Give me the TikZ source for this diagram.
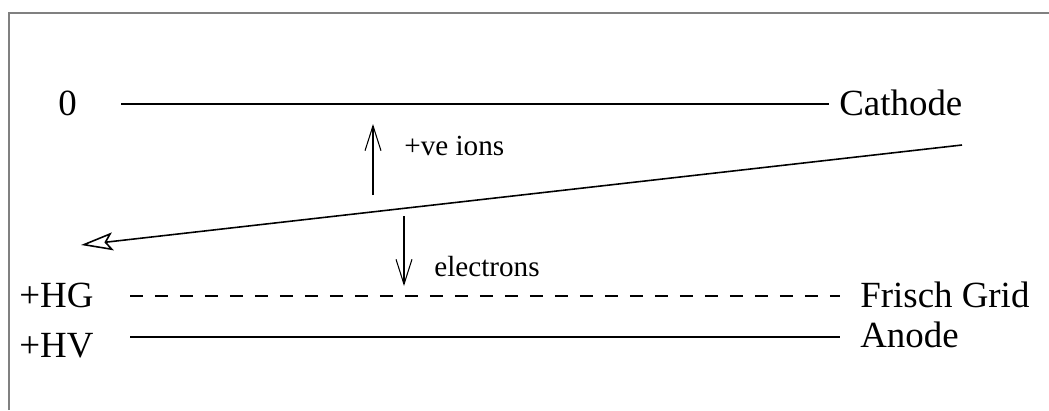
\documentclass[tikz,border=0pt]{standalone}
\usepackage{fontspec}
\setmainfont{Liberation Serif}
\usetikzlibrary{arrows.meta}
\begin{document}
\begin{tikzpicture}[
        x=0.02cm, y=-0.02cm,
        label/.style={inner sep=0pt, anchor=base west, font=\fontsize{21}{24}\selectfont},
        small/.style={inner sep=0pt, anchor=base west, font=\fontsize{16.6}{19}\selectfont},
        electrode/.style={line width=1.1pt},
        frame/.style={draw=gray, line width=0.7pt},
        track/.style={line width=0.9pt, -{Stealth[open, length=0.64cm, width=0.36cm, inset=0.13cm]}},
        drift/.style={line width=0.6pt, -{Straight Barb[length=0.5cm, width=0.32cm]}}
    ]
        \useasboundingbox (0, 0) rectangle (1049, 410);
        \draw[frame] (9, 410) -- (9, 13) -- (1049, 13);

        % electrode labels
        \node[label] (zero) at (58, 115) {0};
        \node[label] (hg) at (19, 307) {+HG};
        \node[label] (hv) at (19, 357) {+HV};
        \node[label] (cathode) at (839, 115) {Cathode};
        \node[label] (grid) at (860, 307) {Frisch Grid};
        \node[label] (anode) at (860, 347) {Anode};

        % drift labels
        \node[small] (ions) at (404, 155) {+ve ions};
        \node[small] (electrons) at (434, 276) {electrons};

        \coordinate (cat-l) at (121, 104);
        \coordinate (cat-r) at (829, 104);
        \coordinate (grid-l) at (130, 296);
        \coordinate (grid-r) at (840, 296);
        \coordinate (an-l) at (130, 337);
        \coordinate (an-r) at (840, 337);
        \coordinate (track-start) at (962, 145);
        \coordinate (track-end) at (81, 245);

        \draw[electrode] (cat-l) -- (cat-r);
        \draw[electrode, dash pattern=on 0.26cm off 0.24cm] (grid-l) -- (grid-r);
        \draw[electrode] (an-l) -- (an-r);

        \draw[track] (track-start) -- (track-end);

        \draw[drift] (373, 195) -- (373, 124);
        \draw[drift] (404, 216) -- (404, 286);
    \end{tikzpicture}
\end{document}
